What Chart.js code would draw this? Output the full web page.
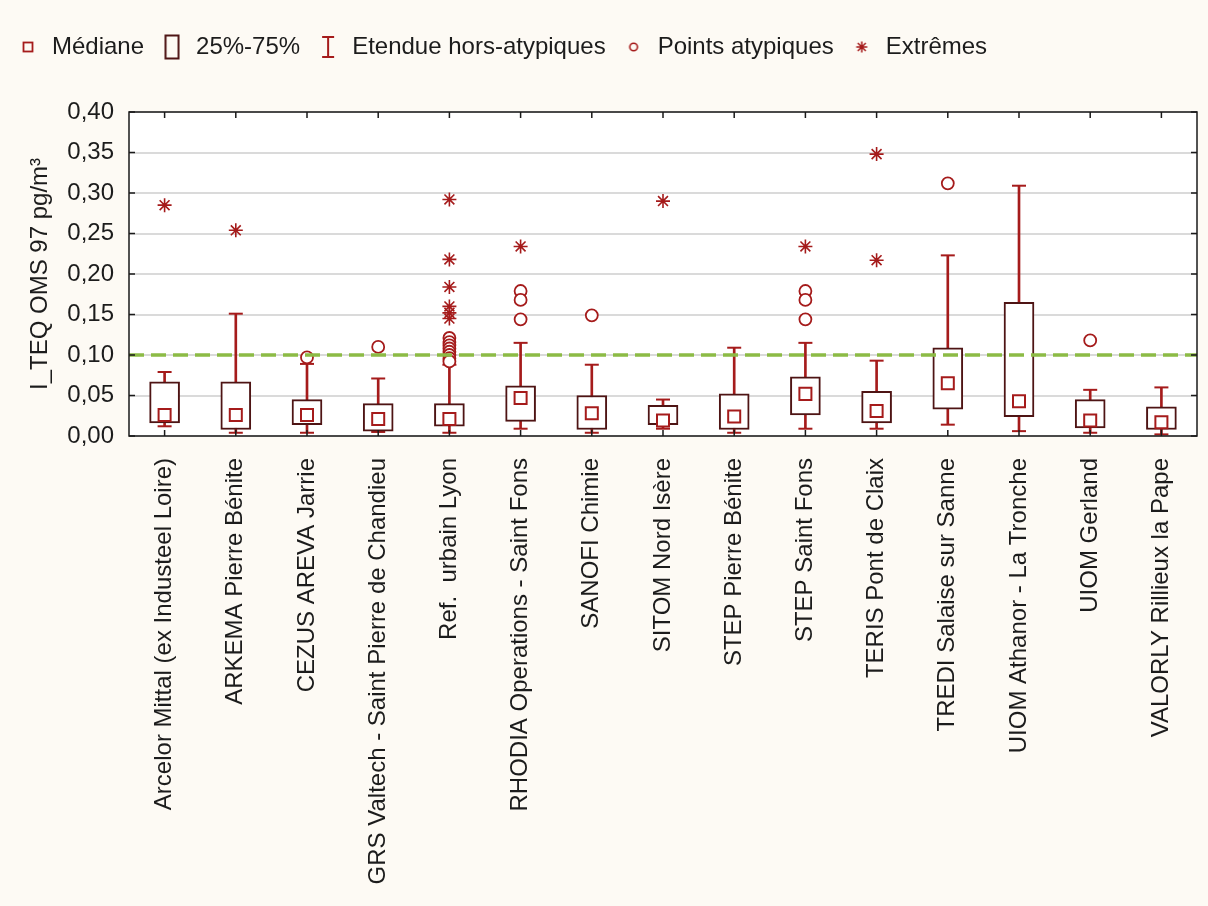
<!DOCTYPE html>
<html>
<head>
<meta charset="utf-8">
<script src="https://cdn.jsdelivr.net/npm/chart.js@4"></script>
<style>
  html, body { margin: 0; padding: 0; background: #fdfaf4; }
</style>
</head>
<body>
<canvas id="boxChart" width="1208" height="906"></canvas>
<script>
var categories = [
    'Arcelor Mittal (ex Industeel Loire)',
    'ARKEMA Pierre Bénite',
    'CEZUS AREVA Jarrie',
    'GRS Valtech - Saint Pierre de Chandieu',
    'Ref.  urbain Lyon',
    'RHODIA Operations - Saint Fons',
    'SANOFI Chimie',
    'SITOM Nord Isère',
    'STEP Pierre Bénite',
    'STEP Saint Fons',
    'TERIS Pont de Claix',
    'TREDI Salaise sur Sanne',
    'UIOM Athanor - La Tronche',
    'UIOM Gerland',
    'VALORLY Rillieux la Pape'
];

// box plot statistics per site (pg/m3)
var whiskerLow  = [0.012, 0.004, 0.004, 0.005, 0.004, 0.009, 0.004, 0.009, 0.004, 0.009, 0.009, 0.014, 0.006, 0.004, 0.002];
var q1          = [0.016, 0.008, 0.014, 0.006, 0.012, 0.018, 0.008, 0.014, 0.008, 0.026, 0.016, 0.033, 0.024, 0.010, 0.008];
var medians     = [0.026, 0.026, 0.026, 0.021, 0.021, 0.047, 0.028, 0.019, 0.024, 0.052, 0.031, 0.065, 0.043, 0.019, 0.017];
var q3          = [0.067, 0.067, 0.045, 0.040, 0.040, 0.062, 0.050, 0.038, 0.052, 0.073, 0.055, 0.109, 0.165, 0.045, 0.036];
var whiskerHigh = [0.079, 0.151, 0.089, 0.071, 0.088, 0.115, 0.088, 0.045, 0.109, 0.115, 0.093, 0.223, 0.309, 0.057, 0.060];

var outliers = [
    [], [], [0.097], [0.110],
    [0.121, 0.116, 0.112, 0.108, 0.104, 0.100, 0.096, 0.092],
    [0.179, 0.168, 0.144], [0.149], [], [],
    [0.179, 0.168, 0.144], [], [0.312], [], [0.118], []
];
var extremes = [
    [0.285], [0.254], [], [],
    [0.292, 0.218, 0.184, 0.160, 0.152, 0.145],
    [0.234], [], [0.290], [],
    [0.234], [0.348, 0.217], [], [], [], []
];

var yMin = 0;
var yMax = 0.40;
var yStep = 0.05;
var limitValue = 0.10;

var boxColor = '#4e1414';
var markColor = '#a51b1b';
var textColor = '#1c1c1c';
var fontFamily = '"Liberation Sans", Arial, sans-serif';

function toPoints(values) {
    return values.map(function (v, i) { return { x: categories[i], y: v }; });
}

function flatten(groups) {
    var pts = [];
    groups.forEach(function (g, i) {
        g.forEach(function (v) { pts.push({ x: categories[i], y: v }); });
    });
    return pts;
}

// small canvases used as legend symbols
function icon(w, h, draw) {
    var c = document.createElement('canvas');
    c.width = w;
    c.height = h;
    var g = c.getContext('2d');
    draw(g);
    return c;
}

var legendItems = [
    { text: 'Médiane', icon: icon(12, 12, function (g) {
        g.strokeStyle = markColor; g.lineWidth = 1.8; g.strokeRect(1.5, 1.5, 9, 9);
    }) },
    { text: '25%-75%', icon: icon(16, 26, function (g) {
        g.strokeStyle = boxColor; g.lineWidth = 2; g.strokeRect(1.5, 1.5, 13, 23);
    }) },
    { text: 'Etendue hors-atypiques', icon: icon(16, 24, function (g) {
        g.strokeStyle = markColor; g.lineWidth = 2;
        g.beginPath();
        g.moveTo(8, 2); g.lineTo(8, 22);
        g.moveTo(2, 2); g.lineTo(14, 2);
        g.moveTo(2, 22); g.lineTo(14, 22);
        g.stroke();
    }) },
    { text: 'Points atypiques', icon: icon(12, 12, function (g) {
        g.strokeStyle = markColor; g.lineWidth = 1.6;
        g.beginPath(); g.arc(6, 6, 3.8, 0, Math.PI * 2); g.stroke();
    }) },
    { text: 'Extrêmes', icon: icon(14, 14, function (g) {
        g.strokeStyle = markColor; g.lineWidth = 1.5;
        g.beginPath();
        g.moveTo(7, 1.5); g.lineTo(7, 12.5);
        g.moveTo(1.5, 7); g.lineTo(12.5, 7);
        g.moveTo(3, 3); g.lineTo(11, 11);
        g.moveTo(11, 3); g.lineTo(3, 11);
        g.stroke();
    }) }
];

var chartFrame = {
    id: 'chartFrame',
    beforeDraw: function (chart) {
        var ctx = chart.ctx, a = chart.chartArea;
        ctx.save();
        ctx.fillStyle = '#fdfaf4';
        ctx.fillRect(0, 0, chart.width, chart.height);
        ctx.fillStyle = '#ffffff';
        ctx.fillRect(a.left, a.top, a.right - a.left, a.bottom - a.top);
        ctx.restore();
    },
    afterDatasetsDraw: function (chart) {
        // dashed 0,10 guide line
        var ctx = chart.ctx, a = chart.chartArea;
        var y = chart.scales.y.getPixelForValue(limitValue);
        ctx.save();
        ctx.strokeStyle = '#8cbb45';
        ctx.lineWidth = 3.5;
        ctx.setLineDash([15, 7]);
        ctx.beginPath();
        ctx.moveTo(a.left, y);
        ctx.lineTo(a.right, y);
        ctx.stroke();
        ctx.restore();
    },
    afterDraw: function (chart) {
        // plot frame with inward tick marks on all four sides
        var ctx = chart.ctx, a = chart.chartArea;
        var xs = chart.scales.x, ys = chart.scales.y;
        var len = 6;
        ctx.save();
        ctx.strokeStyle = '#1a1a1a';
        ctx.lineWidth = 1.5;
        ctx.strokeRect(a.left, a.top, a.right - a.left, a.bottom - a.top);
        ctx.beginPath();
        ys.ticks.forEach(function (t, i) {
            var y = ys.getPixelForTick(i);
            ctx.moveTo(a.left, y); ctx.lineTo(a.left + len, y);
            ctx.moveTo(a.right, y); ctx.lineTo(a.right - len, y);
        });
        xs.ticks.forEach(function (t, i) {
            var x = xs.getPixelForTick(i);
            ctx.moveTo(x, a.top); ctx.lineTo(x, a.top + len);
            ctx.moveTo(x, a.bottom); ctx.lineTo(x, a.bottom - len);
        });
        ctx.stroke();
        ctx.restore();
    }
};

var ctx = document.getElementById('boxChart').getContext('2d');
var boxChart = new Chart(ctx, {
    type: 'bar',
    data: {
        labels: categories,
        datasets: [
            {
                type: 'line', label: 'Extrêmes', xAxisID: 'x',
                data: flatten(extremes), showLine: false,
                pointStyle: 'star', pointRadius: 7, pointBorderWidth: 1.6,
                pointBorderColor: markColor, pointBackgroundColor: markColor,
                order: 0
            },
            {
                type: 'line', label: 'Points atypiques', xAxisID: 'x',
                data: flatten(outliers), showLine: false,
                pointStyle: 'circle', pointRadius: 6, pointBorderWidth: 1.8,
                pointBorderColor: markColor, pointBackgroundColor: '#ffffff',
                order: 0
            },
            {
                type: 'line', label: 'Médiane', xAxisID: 'x',
                data: toPoints(medians), showLine: false,
                pointStyle: 'rect', pointRadius: 8.5, pointBorderWidth: 2,
                pointBorderColor: markColor, pointBackgroundColor: '#ffffff',
                order: 1
            },
            {
                type: 'bar', label: '25%-75%', xAxisID: 'x',
                data: q1.map(function (v, i) { return [v, q3[i]]; }),
                backgroundColor: '#ffffff', borderColor: boxColor,
                borderWidth: 2, borderSkipped: false,
                barThickness: 30, grouped: false,
                order: 2
            },
            {
                type: 'line', label: 'whisker low', xAxisID: 'x',
                data: toPoints(whiskerLow), showLine: false,
                pointStyle: 'line', pointRadius: 7, pointBorderWidth: 2,
                pointBorderColor: markColor,
                order: 3
            },
            {
                type: 'line', label: 'whisker high', xAxisID: 'x',
                data: toPoints(whiskerHigh), showLine: false,
                pointStyle: 'line', pointRadius: 7, pointBorderWidth: 2,
                pointBorderColor: markColor,
                order: 3
            },
            {
                type: 'bar', label: 'Etendue hors-atypiques', xAxisID: 'x',
                data: whiskerLow.map(function (v, i) { return [v, whiskerHigh[i]]; }),
                backgroundColor: markColor, borderWidth: 0,
                barThickness: 2, grouped: false,
                order: 4
            }
        ]
    },
    options: {
        responsive: false,
        animation: false,
        events: [],
        layout: { padding: { top: 19, right: 11, bottom: 0, left: 0 } },
        plugins: {
            tooltip: { enabled: false },
            legend: {
                position: 'top',
                align: 'start',
                labels: {
                    usePointStyle: true,
                    boxWidth: 24,
                    boxHeight: 24,
                    padding: 16,
                    color: textColor,
                    font: { family: fontFamily, size: 24 },
                    generateLabels: function () {
                        return legendItems.map(function (item) {
                            return {
                                text: item.text,
                                pointStyle: item.icon,
                                fillStyle: 'transparent',
                                strokeStyle: 'transparent',
                                lineWidth: 0,
                                hidden: false,
                                fontColor: textColor
                            };
                        });
                    }
                }
            }
        },
        scales: {
            x: {
                type: 'category',
                labels: categories,
                offset: true,
                grid: { display: false },
                border: { display: false },
                ticks: {
                    autoSkip: false,
                    minRotation: 90,
                    maxRotation: 90,
                    padding: 14,
                    color: textColor,
                    font: { family: fontFamily, size: 24 }
                },
                afterFit: function (s) { s.height = 470; }
            },
            xTop: {
                type: 'category',
                position: 'top',
                labels: categories,
                offset: true,
                grid: { display: false },
                border: { display: false },
                ticks: { display: false },
                afterFit: function (s) { s.height = 43; }
            },
            y: {
                min: yMin,
                max: yMax,
                grid: { color: '#dadada', lineWidth: 2, drawTicks: false },
                border: { display: false },
                ticks: {
                    stepSize: yStep,
                    padding: 15,
                    color: textColor,
                    font: { family: fontFamily, size: 24 },
                    callback: function (v) { return v.toFixed(2).replace('.', ','); }
                },
                title: {
                    display: true,
                    text: 'I_TEQ OMS 97 pg/m³',
                    color: textColor,
                    padding: { top: 26, bottom: 0 },
                    font: { family: fontFamily, size: 24 }
                },
                afterFit: function (s) { s.width = 129; }
            }
        }
    },
    plugins: [chartFrame]
});
</script>
</body>
</html>
